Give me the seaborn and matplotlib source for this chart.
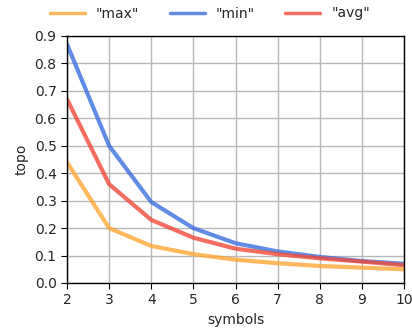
import matplotlib
matplotlib.use("Agg")
import matplotlib.pyplot as plt
import seaborn as sns
import pandas as pd

symbols = [2, 3, 4, 5, 6, 7, 8, 9, 10]
max_vals = [0.44, 0.20, 0.135, 0.105, 0.085, 0.072, 0.062, 0.056, 0.05]
min_vals = [0.87, 0.50, 0.295, 0.20, 0.145, 0.115, 0.095, 0.08, 0.07]
avg_vals = [0.67, 0.36, 0.23, 0.165, 0.125, 0.105, 0.09, 0.078, 0.065]
series_names = ['"max"', '"min"', '"avg"']
colors = ["#FFA733", "#3A6FE0", "#F04A36"]

sns.set_style("whitegrid")
plt.rcParams["font.family"] = ["DejaVu Sans"]

df = pd.DataFrame({
    "symbols": symbols * 3,
    "topo": max_vals + min_vals + avg_vals,
    "series": [series_names[0]] * 9 + [series_names[1]] * 9 + [series_names[2]] * 9,
})

fig = plt.figure(figsize=(4.12, 3.31), dpi=100)
ax = fig.add_axes([67 / 412, 1 - 283 / 331, (404 - 67) / 412, (283 - 36) / 331])
sns.lineplot(data=df, x="symbols", y="topo", hue="series", palette=colors,
             linewidth=3, alpha=0.8, ax=ax)
ax.set_xlim(2, 10)
ax.set_ylim(0, 0.9)
ax.set_xticks(range(2, 11))
ax.set_yticks([i / 10 for i in range(10)])
ax.set_yticklabels([f"{i/10:.1f}" for i in range(10)])
ax.grid(True, color="#b8b8b8", linewidth=1)
for s in ax.spines.values():
    s.set_color("black")
    s.set_linewidth(1)
ax.tick_params(axis="both", labelsize=10, length=4, color="black", left=True, bottom=True)
ax.set_xlabel("symbols", fontsize=10)
ax.set_ylabel("topo", fontsize=10)
handles, labels = ax.get_legend_handles_labels()
ax.get_legend().remove()
leg = fig.legend(handles, labels, loc="lower center", bbox_to_anchor=(0.51, 1 - 33 / 331),
                 ncol=3, frameon=False, fontsize=10, handlelength=2.5, columnspacing=2.2)
for line in leg.get_lines():
    line.set_linewidth(2.5)
fig.savefig("out.png", dpi=100)
